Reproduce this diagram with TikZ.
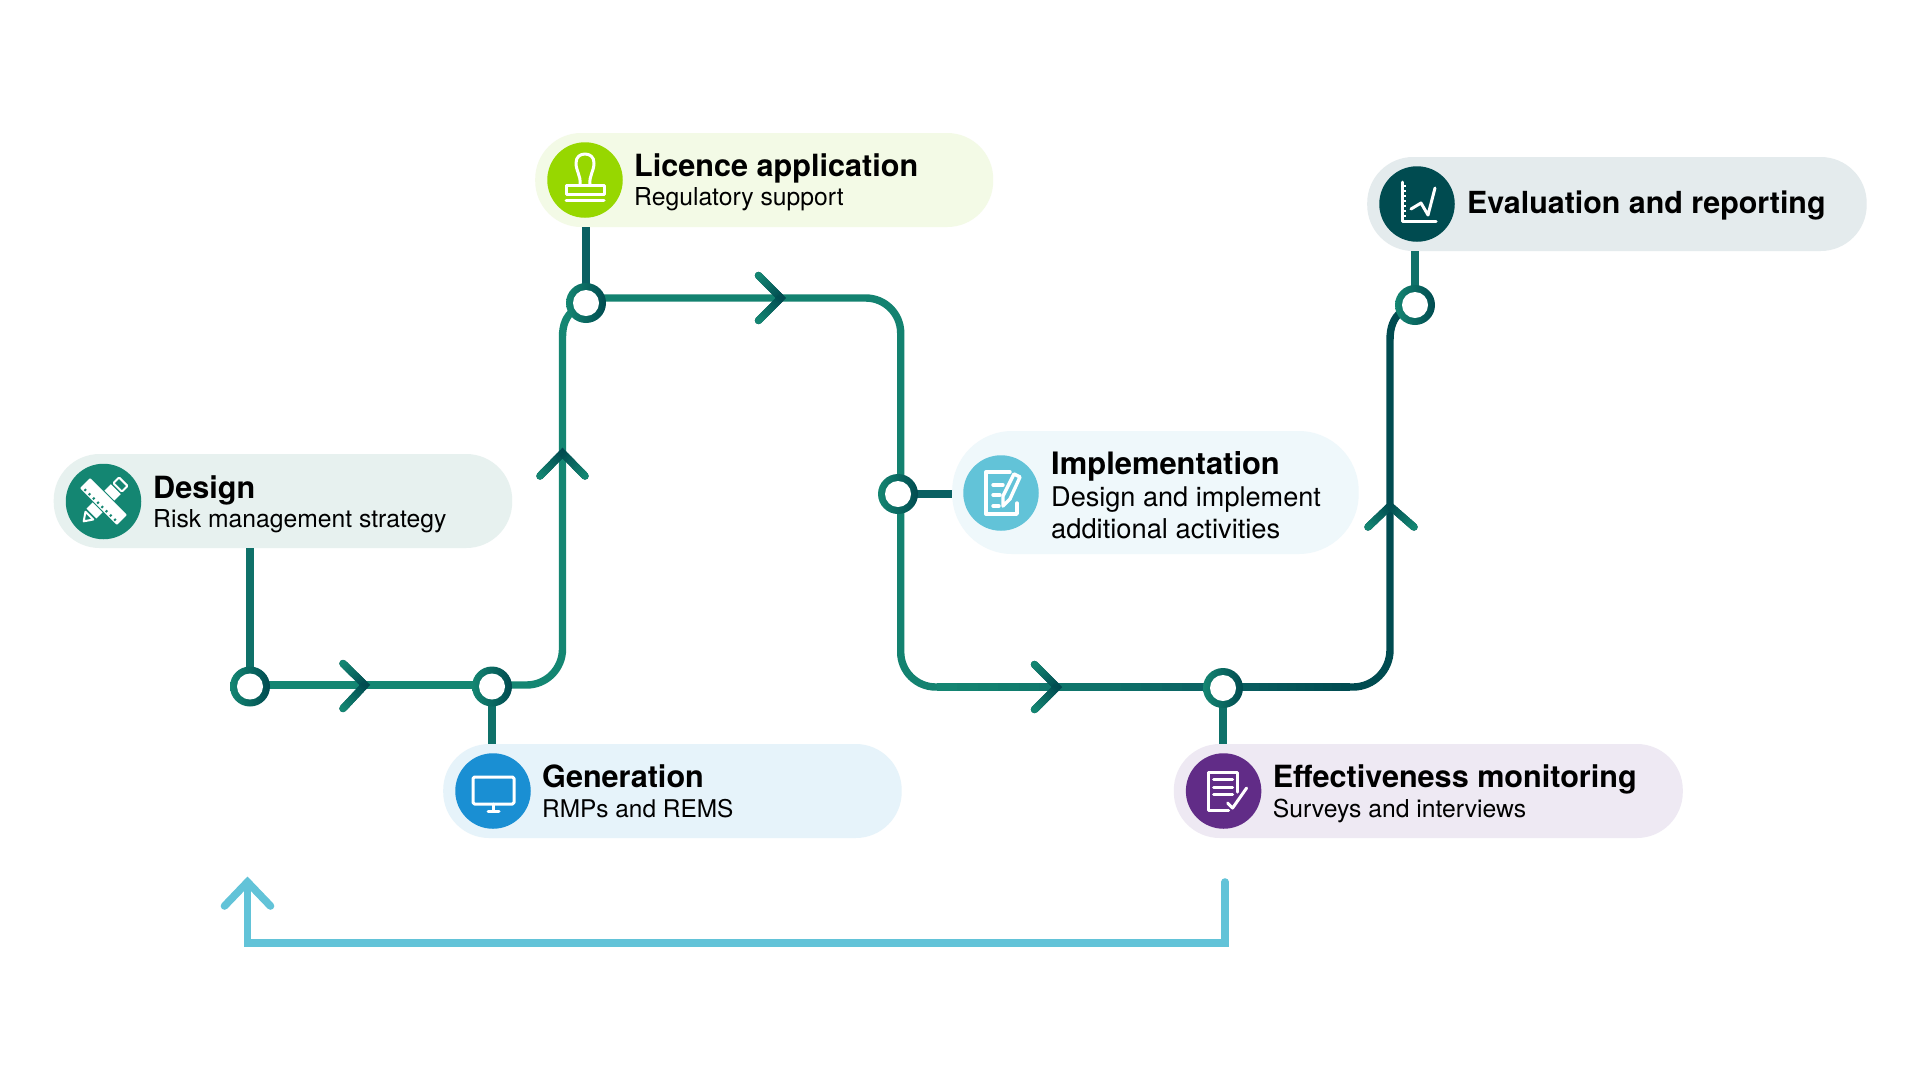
\documentclass[tikz,border=0pt]{standalone}
\usepackage{fontspec}
\setmainfont{TeX Gyre Heros}
\usetikzlibrary{calc}
\definecolor{gA}{HTML}{148672}
\definecolor{gB}{HTML}{0F7169}
\definecolor{gC}{HTML}{0A6062}
\definecolor{gD}{HTML}{004B50}
\definecolor{cyanline}{HTML}{62C3D8}
\definecolor{pDesign}{HTML}{E7F1EF}
\definecolor{pLicence}{HTML}{F3FAE6}
\definecolor{pGen}{HTML}{E6F3FA}
\definecolor{pImpl}{HTML}{EFF8FB}
\definecolor{pEff}{HTML}{EEE9F3}
\definecolor{pEval}{HTML}{E4EBED}
\definecolor{cLicence}{HTML}{97D700}
\definecolor{cGen}{HTML}{1A8FD3}
\definecolor{cEff}{HTML}{612C87}
\newcommand{\gradseg}[4]{%
  \foreach \k in {1,...,14}{%
    \pgfmathsetmacro\ta{(\k-1)/14}%
    \pgfmathsetmacro\tb{min(1,(\k+0.3)/14)}%
    \pgfmathtruncatemacro\pc{100*(\k-0.5)/14}%
    \draw[line width=7.4pt,line cap=butt,color={#4!\pc!#3}] ($(#1)!\ta!(#2)$) -- ($(#1)!\tb!(#2)$);
  }}
\newcommand{\chev}[5]{% tip, arm a, arm b, far colour, tip colour
  \draw[line width=7.4pt,line join=miter,line cap=round,color=#5] (#2) -- (#1) -- (#3);
  \fill[#4] (#2) circle (3.7pt);
  \fill[#4] (#3) circle (3.7pt);
  \gradseg{#2}{#1}{#4}{#5}
  \gradseg{#3}{#1}{#4}{#5}}
\tikzset{
  x=1pt,y=-1pt,
  flow/.style={line width=7.4pt,color=gA},
  stem/.style={line width=7.4pt,color=gB},
  loopback/.style={line width=7.6pt,color=cyanline,line join=miter},
  pill/.style={rectangle,rounded corners=46pt,inner sep=0pt,minimum height=94pt,anchor=west},
  disc/.style={circle,inner sep=0pt,minimum size=75.5pt},
  ring/.style={circle,inner sep=0pt,minimum size=40pt,shade,shading=axis,left color=gA,right color=gD,
    path picture={\fill[white] (path picture bounding box.center) circle (13pt);}},
  title/.style={anchor=base west,inner sep=0pt,font=\fontsize{30.6}{30.6}\selectfont\bfseries,text=black},
  sub/.style={anchor=base west,inner sep=0pt,font=\fontsize{24.7}{24.7}\selectfont,text=black},
  icon/.style={white,line width=3pt,line cap=round,line join=round},
}
\begin{document}
\begin{tikzpicture}
\useasboundingbox (0,0) rectangle (1920,1080);
\fill[white] (0,0) rectangle (1920,1080);

% pills
\node[pill,fill=pDesign,minimum width=458.5pt] (pd) at (53.5,501) {};
\node[pill,fill=pLicence,minimum width=458pt] (pl) at (535,180) {};
\node[pill,fill=pGen,minimum width=458.5pt] (pg) at (443,791) {};
\node[pill,fill=pImpl,minimum width=406.5pt,minimum height=123pt,rounded corners=60pt] (pi) at (952,492.5) {};
\node[pill,fill=pEff,minimum width=509pt] (pf) at (1173.6,791) {};
\node[pill,fill=pEval,minimum width=499.5pt] (pv) at (1367,204) {};

% anchors of the track
\coordinate (n1c) at (250,686.5);
\coordinate (n2c) at (492,686.5);
\coordinate (n3c) at (586,303);
\coordinate (n4c) at (898,494);
\coordinate (n5c) at (1223,688);
\coordinate (n6c) at (1415,305);
\coordinate (h1a) at (250,685);
\coordinate (c1) at (562.5,685);
\coordinate (v1) at (562.5,337);
\coordinate (h2a) at (586,298);
\coordinate (c2) at (900.7,298);
\coordinate (c3) at (900.7,687);
\coordinate (h3a) at (937,687);
\coordinate (a4tip) at (1057,687);
\coordinate (h3b) at (1223,687);
\coordinate (h3c) at (1350,687);
\coordinate (c4) at (1390,687);
\coordinate (v3) at (1390,340);

% vertical stems
\draw[stem] (250,548) -- (n1c);
\draw[stem] (n2c) -- (492,744);
\draw[stem,color=gC] (586,227) -- (n3c);
\draw[stem,color=gC] (n4c) -- (952,494);
\draw[stem] (n5c) -- (1223,744);
\draw[stem] (1415,251) -- (n6c);

% track
\draw[flow] (h1a) -- (492,685);
\draw[flow,rounded corners=36pt] (492,685) -- (c1) -- (v1);
\draw[flow] (v1) .. controls (562.5,325) and (566,316) .. (574,310);
\draw[flow,color=gA!90!gC,rounded corners=35pt] (h2a) -- (c2) -- (c3) -- (h3a);
\gradseg{h3a}{h3b}{gA}{gC}
\gradseg{h3b}{h3c}{gC}{gD}
\draw[flow,color=gD,rounded corners=37pt] (h3c) -- (c4) -- (v3);
\draw[flow,color=gD] (v3) .. controls (1390,328) and (1393,318) .. (1402,311);

% rings
\node[ring] (n1) at (n1c) {};
\node[ring] (n2) at (n2c) {};
\node[ring] (n3) at (n3c) {};
\node[ring] (n4) at (n4c) {};
\node[ring] (n5) at (n5c) {};
\node[ring] (n6) at (n6c) {};

% arrowheads
\coordinate (a1) at (365,685); \coordinate (a1p) at (343,663.5); \coordinate (a1q) at (343,708.5);
\coordinate (a2) at (562.5,453); \coordinate (a2p) at (540,476); \coordinate (a2q) at (585,476);
\coordinate (a3) at (781,298); \coordinate (a3p) at (758.5,275.5); \coordinate (a3q) at (758.5,320.5);
\coordinate (a4p) at (1034.5,664.5); \coordinate (a4q) at (1034.5,709.5);
\coordinate (a5) at (1390,506); \coordinate (a5p) at (1368,527); \coordinate (a5q) at (1414,527);
\chev{a1}{a1p}{a1q}{gA}{gD}
\chev{a2}{a2p}{a2q}{gA}{gD}
\chev{a3}{a3p}{a3q}{gA}{gD}
\chev{a4tip}{a4p}{a4q}{gA}{gD}
\chev{a5}{a5p}{a5q}{gA}{gD}

% loop back
\coordinate (b0) at (1225,882);
\coordinate (b1) at (1225,943);
\coordinate (b2) at (247.5,943);
\coordinate (b3) at (247.5,882);
\coordinate (b4) at (224.5,906);
\coordinate (b5) at (270.5,906);
\draw[loopback,line cap=round] (b0) -- (b1) -- (b2) -- (b3);
\draw[loopback,line cap=round] (b4) -- (b3) -- (b5);

% discs
\node[disc,fill=gA] (dd) at (103.5,501.5) {};
\node[disc,fill=cLicence] (dl) at (585,180) {};
\node[disc,fill=cGen] (dg) at (493,791) {};
\node[disc,fill=cyanline] (di) at (1001,493) {};
\node[disc,fill=cEff] (df) at (1223.6,791) {};
\node[disc,fill=gD] (dv) at (1417,204) {};

% icon: ruler and pencil
\begin{scope}[shift={(dd.center)}]
  \begin{scope}[rotate=-45]
    \fill[white,rounded corners=1.5pt] (-7,-29) rectangle (7,-19);
    \fill[gA] (-4.8,-26.8) rectangle (4.8,-21.2);
    \fill[white] (-7,-17.5) rectangle (7,17);
    \draw[white,line width=2pt,line join=round] (-5.5,20) -- (5.5,20) -- (0,28) -- cycle;
  \end{scope}
  \begin{scope}[rotate=45]
    \fill[gA] (-8.2,-27) rectangle (8.2,27);
    \fill[white,rounded corners=1pt] (-7.2,-26) rectangle (7.2,26);
    \foreach \t in {-22,-16,...,22} \fill[gA] (-6,\t) rectangle (-3.6,\t+2);
  \end{scope}
\end{scope}

% icon: stamp
\begin{scope}[shift={(dl.center)}]
  \draw[icon] (-5,4) .. controls (-4,-4) and (-9,-9) .. (-9,-17) .. controls (-9,-23) and (-5,-26) .. (0,-26)
     .. controls (5,-26) and (9,-23) .. (9,-17) .. controls (9,-9) and (4,-4) .. (5,4);
  \draw[icon] (-19,5.5) rectangle (19,14);
  \draw[icon] (-19,20) -- (19,20);
\end{scope}

% icon: monitor
\begin{scope}[shift={(dg.center)}]
  \draw[icon,rounded corners=1.5pt] (-20,-14) rectangle (21,13);
  \draw[icon] (0.5,13) -- (0.5,19);
  \draw[icon] (-5,20) -- (6,20);
\end{scope}

% icon: document with pen
\begin{scope}[shift={(di.center)}]
  \draw[icon,line width=3.4pt] (9,-21) -- (-15,-21) -- (-15,21) -- (16,21) -- (16,10);
  \draw[icon,line width=3.4pt,fill=cyanline] (2,13) -- (2,3) -- (13,-19) -- (19,-16) -- (9,6) -- cycle;
  \draw[icon,line width=3.4pt] (-8,-8) -- (2,-8);
  \draw[icon,line width=3.4pt] (-8,2) -- (-1,2);
  \draw[icon,line width=3.4pt] (-8,13) -- (-2,13);
\end{scope}

% icon: checklist
\begin{scope}[shift={(df.center)}]
  \draw[icon] (5,19) -- (-15.5,19) -- (-15.5,-19) -- (13.5,-19) -- (13.5,1);
  \draw[icon] (-10,-12) -- (9,-12);
  \draw[icon] (-10,-4) -- (9,-4);
  \draw[icon] (-10,3) -- (9,3);
  \draw[icon] (4,12) -- (9,17) -- (23,-3);
\end{scope}

% icon: chart
\begin{scope}[shift={(dv.center)}]
  \draw[icon] (-15,-22) -- (-15,17) -- (19,17);
  \foreach \t in {-18,-13,...,12} \draw[white,line width=1.8pt] (-15,\t) -- (-11,\t);
  \draw[icon] (-6,5) -- (4,-1) -- (11,11) -- (18,-16);
\end{scope}

% text
\node[title] (t1) at (153,498) {Design};
\node[sub] (s1) at (153,527) {Risk management strategy};
\node[title] (t2) at (634,176) {Licence application};
\node[sub] (s2) at (634,205) {Regulatory support};
\node[title] (t3) at (542,787) {Generation};
\node[sub,font=\fontsize{24.4}{24.4}\selectfont] (s3) at (542,817) {RMPs and REMS};
\node[title,font=\fontsize{30.9}{30.9}\selectfont\bfseries] (t4) at (1051,474) {Implementation};
\node[sub,font=\fontsize{27.1}{27.1}\selectfont] (s4) at (1051,506) {Design and implement};
\node[sub,font=\fontsize{27.3}{27.3}\selectfont] (s4b) at (1051,538) {additional activities};
\node[title] (t5) at (1272.6,787) {Effectiveness monitoring};
\node[sub] (s5) at (1272.6,817) {Surveys and interviews};
\node[title,font=\fontsize{30.4}{30.4}\selectfont\bfseries] (t6) at (1467,213) {Evaluation and reporting};
\end{tikzpicture}
\end{document}
